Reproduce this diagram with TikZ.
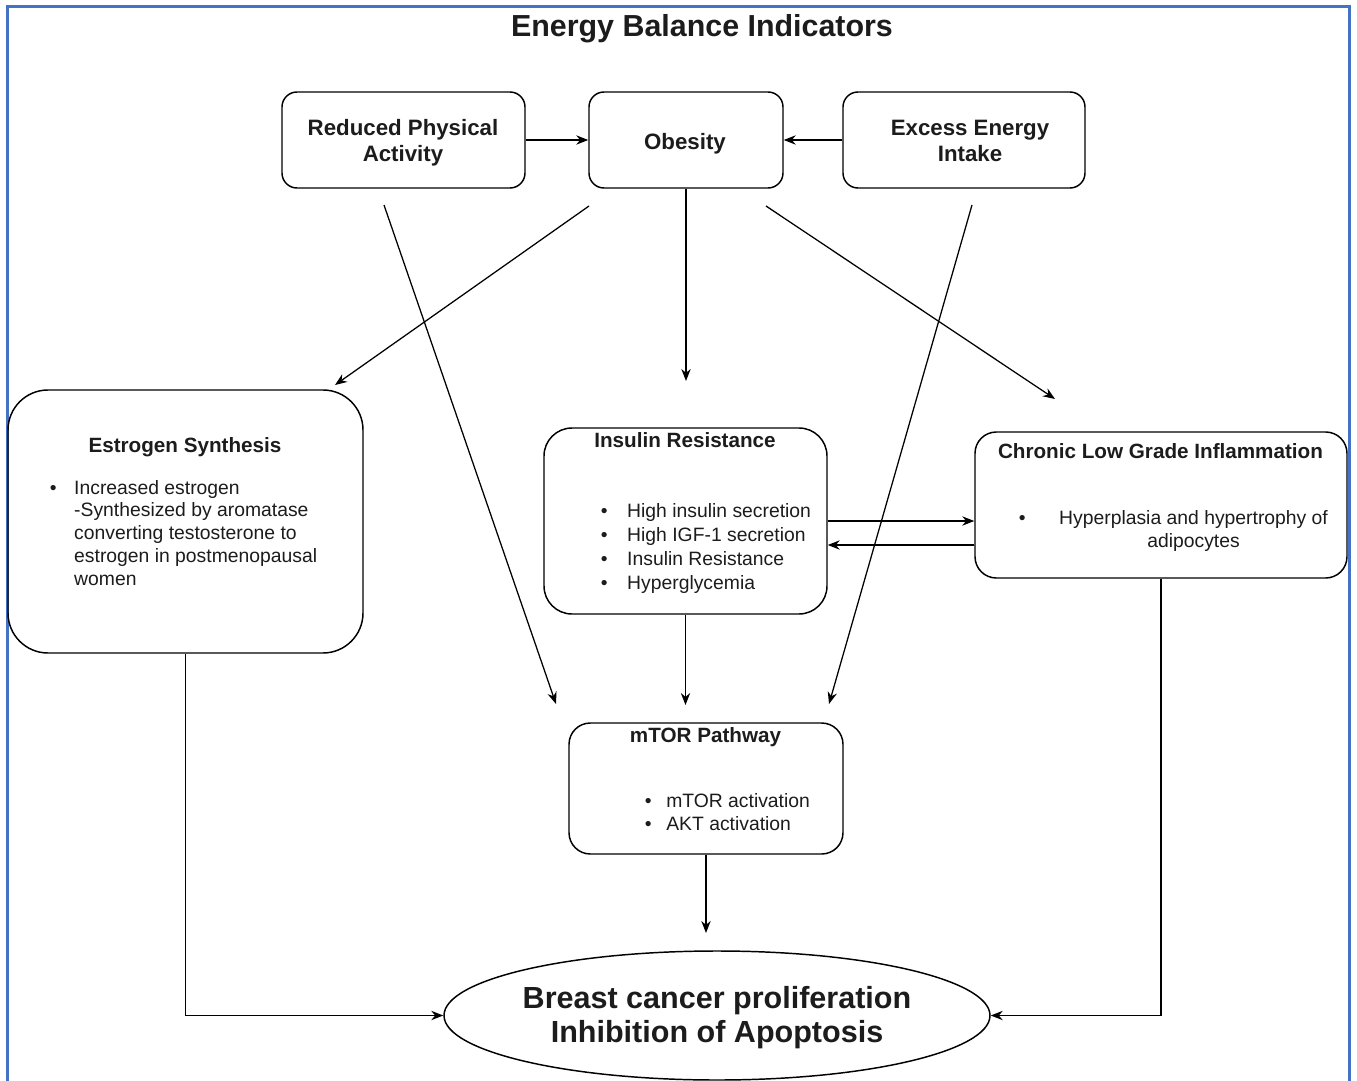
\documentclass[tikz,border=0pt]{standalone}
\usepackage{fontspec}
\setmainfont{Liberation Sans}
\usetikzlibrary{arrows.meta,shapes.geometric,calc}
\definecolor{frameblue}{RGB}{68,114,196}
\definecolor{txt}{RGB}{28,28,28}
\begin{document}
\begin{tikzpicture}[x=0.75pt,y=-0.75pt,
  box/.style={draw=black, line width=1.1pt, rounded corners=#1, inner sep=0pt},
  lbl/.style={inner sep=0pt, text=txt},
  head/.style={lbl, anchor=base, font=\fontsize{15.5}{19.5}\selectfont\bfseries},
  tophead/.style={lbl, font=\fontsize{16.7}{19.5}\selectfont\bfseries},
  body/.style={lbl, anchor=north west},
  arr/.style={-{Stealth[length=9pt,width=7pt]}, line width=0.95pt, draw=black}]
\useasboundingbox (0,0) rectangle (1357,1081);
\fill[white] (0,0) rectangle (1357,1081);
\draw[frameblue, line width=2.25pt] (7,1085) -- (7,7) -- (1349,7) -- (1349,1085);

% title
\node[lbl, anchor=base, font=\fontsize{22.8}{27}\selectfont\bfseries] (title) at (702,37) {Energy Balance Indicators};

% top boxes
\node[box=11.25pt, minimum width=182.25pt, minimum height=72pt] (rpa) at (403.5,140) {};
\node[tophead] (rpat) at (403,143.8) {\begin{tabular}{@{}c@{}}Reduced Physical\\Activity\end{tabular}};
\node[box=11.25pt, minimum width=145.5pt, minimum height=72pt] (ob) at (686,140) {};
\node[tophead, anchor=base] (obt) at (685,149) {Obesity};
\node[box=11.25pt, minimum width=181.5pt, minimum height=72pt] (ex) at (964,140) {};
\node[tophead] (ext) at (970,143.8) {\begin{tabular}{@{}c@{}}Excess Energy\\Intake\end{tabular}};

% estrogen
\node[box=30pt, minimum width=266.25pt, minimum height=197.25pt] (est) at (185.5,521.5) {};
\node[head] (estt) at (185,452.4) {Estrogen Synthesis};
\node[body, font=\fontsize{14.5}{17.1}\selectfont] (estl) at (49.6,477.9) {\begin{tabular}{@{}l@{\hspace{13.2pt}}l@{}}\textbullet & Increased estrogen\\ & -Synthesized by aromatase\\ & converting testosterone to\\ & estrogen in postmenopausal\\ & women\end{tabular}};

% insulin
\node[box=21pt, minimum width=212.25pt, minimum height=139.5pt] (ins) at (685.5,521) {};
\node[head] (inst) at (685,447.4) {Insulin Resistance};
\node[body, font=\fontsize{14.5}{18.2}\selectfont] (insl) at (600.6,499.9) {\begin{tabular}{@{}l@{\hspace{14.7pt}}l@{}}\textbullet & High insulin secretion\\ \textbullet & High IGF-1 secretion\\ \textbullet & Insulin Resistance\\ \textbullet & Hyperglycemia\end{tabular}};

% chronic
\node[box=16pt, minimum width=279pt, minimum height=109.5pt] (chr) at (1161,505) {};
\node[head] (chrt) at (1160.5,458.4) {Chronic Low Grade Inflammation};
\node[body, font=\fontsize{14.5}{17.25}\selectfont] (chrl) at (1018.6,507.8) {\begin{tabular}{@{}c@{\hspace{25.2pt}}c@{}}\textbullet & Hyperplasia and hypertrophy of\\ & adipocytes\end{tabular}};

% mTOR
\node[box=16pt, minimum width=205.5pt, minimum height=98.25pt] (mtor) at (706,788.5) {};
\node[head] (mtort) at (705.5,742.4) {mTOR Pathway};
\node[body, font=\fontsize{14.5}{17.25}\selectfont] (mtorl) at (644.6,790.8) {\begin{tabular}{@{}l@{\hspace{11pt}}l@{}}\textbullet & mTOR activation\\ \textbullet & AKT activation\end{tabular}};

% ellipse
\node[draw=black, line width=1.1pt, ellipse, inner sep=0pt, minimum width=409.5pt, minimum height=96.75pt] (ell) at (717,1015.5) {};
\node[lbl, font=\fontsize{22.9}{25.5}\selectfont\bfseries] (ellt) at (717,1019.1) {\begin{tabular}{@{}c@{}}Breast cancer proliferation\\Inhibition of Apoptosis\end{tabular}};

% free ends
\coordinate (o1s) at (589,206); \coordinate (o1e) at (335,385);
\coordinate (o3e) at (685,381);
\coordinate (o2s) at (766,206); \coordinate (o2e) at (1055,399);
\coordinate (r1s) at (384,205); \coordinate (r1e) at (556,704);
\coordinate (e1s) at (972,205); \coordinate (e1e) at (829,704);
\coordinate (i1e) at (685,705);
\coordinate (m1e) at (707,933);
\coordinate (lo) at ([yshift=-18pt]ins.east);

% connectors
\draw[arr] (rpa.east) -- (ob.west);
\draw[arr] (ex.west) -- (ob.east);
\draw[arr] (o1s) -- (o1e);
\draw[arr] (ob.south) -- (ob.south |- o3e);
\draw[arr] (o2s) -- (o2e);
\draw[arr] (r1s) -- (r1e);
\draw[arr] (e1s) -- (e1e);
\draw[arr] (ins.east) -- (ins.east -| chr.west);
\draw[arr] (lo -| chr.west) -- (lo);
\draw[arr] (ins.south) -- (ins.south |- i1e);
\draw[arr] (mtor.south) -- (mtor.south |- m1e);
\draw[arr] (est.south) |- (ell.west);
\draw[arr] (chr.south) |- (ell.east);
\end{tikzpicture}
\end{document}
